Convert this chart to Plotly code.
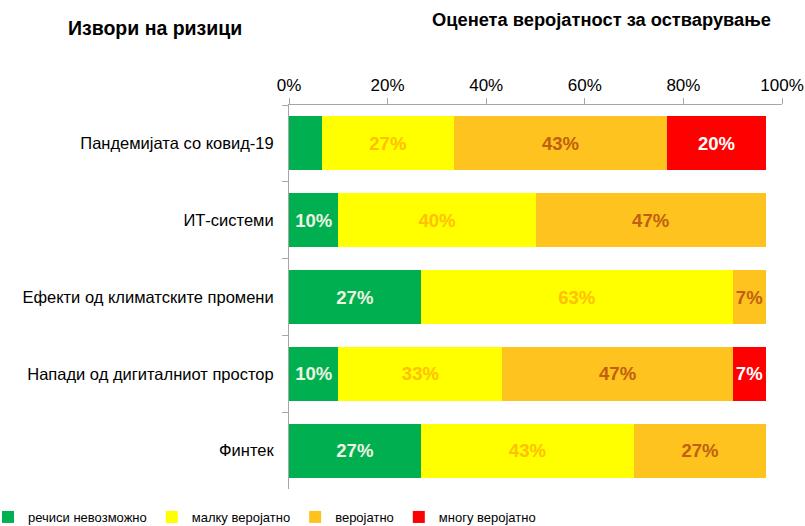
import plotly.graph_objects as go

categories = ["Пандемијата со ковид-19", "ИТ-системи", "Ефекти од климатските промени",
              "Напади од дигиталниот простор", "Финтек"]
series_names = ["речиси невозможно", "малку веројатно", "веројатно", "многу веројатно"]
almost_impossible = [6.7, 10.0, 26.7, 10.0, 26.7]
slightly_likely = [26.7, 40.0, 63.3, 33.3, 43.3]
likely = [43.3, 46.7, 6.7, 46.7, 26.7]
very_likely = [20.0, None, None, 6.7, None]
# label shown on each segment (the small green pandemic segment is unlabelled in the original)
show_label = [
    [False, True, True, True, True],
    [True, True, True, True, True],
    [True, True, True, True, True],
    [True, False, False, True, False],
]
x_ticks = [0, 20, 40, 60, 80, 100]

colors = ["#00B050", "#FFFF00", "#FEC31E", "#FF0000"]
text_colors = ["#EEF3E2", "#FFC000", "#C0600E", "#FFFFFF"]

series = [almost_impossible, slightly_likely, likely, very_likely]

fig = go.Figure()
for i, (name, vals) in enumerate(zip(series_names, series)):
    texts = [f"{v:.0f}%" if (v is not None and show_label[i][j]) else "" for j, v in enumerate(vals)]
    fig.add_trace(go.Bar(
        y=categories, x=vals, name=name, orientation="h",
        marker=dict(color=colors[i], line=dict(width=0)),
        text=texts, textposition="inside", insidetextanchor="middle",
        textangle=0,
        textfont=dict(family="Liberation Sans", size=18.5, color=text_colors[i], weight="bold"),
        hoverinfo="skip",
    ))

L, R, T, B = 289, 23, 105, 37
W, H = 805, 526
pw, ph = W - L - R, H - T - B


def px_to_paper(px, py):
    return (px - L) / pw, (H - B - py) / ph


a1x, a1y = px_to_paper(155, 28)
a2x, a2y = px_to_paper(601, 20)
lx, ly = px_to_paper(-12, 502)

fig.update_layout(
    barmode="stack",
    bargap=0.297,
    width=W, height=H,
    margin=dict(l=L, r=R, t=T, b=B, autoexpand=False),
    paper_bgcolor="white", plot_bgcolor="white",
    font=dict(family="Liberation Sans", size=16, color="#000000"),
    showlegend=True,
    legend=dict(orientation="h", x=lx, xanchor="left", y=ly, yanchor="top",
                font=dict(size=13, family="Liberation Sans"),
                traceorder="normal", itemwidth=30,
                bgcolor="rgba(0,0,0,0)"),
    annotations=[
        dict(text="<b>Извори на ризици</b>", x=a1x, y=a1y, xref="paper", yref="paper",
             xanchor="center", yanchor="middle",
             showarrow=False, font=dict(size=19.5, family="Liberation Sans")),
        dict(text="<b>Оценета веројатност за остварување</b>", x=a2x, y=a2y, xref="paper", yref="paper",
             xanchor="center", yanchor="middle",
             showarrow=False, font=dict(size=18.3, family="Liberation Sans")),
    ],
)

fig.update_xaxes(
    side="top", range=[0, 100], tickvals=x_ticks, ticktext=[f"{t}%" for t in x_ticks],
    showgrid=False, zeroline=False, showline=True, linecolor="#A6A6A6", linewidth=1,
    ticks="outside", ticklen=6, tickcolor="#A6A6A6", tickfont=dict(size=17),
)
fig.update_yaxes(
    autorange="reversed", showgrid=False, zeroline=False, showline=True,
    linecolor="#A6A6A6", linewidth=1, ticks="outside", ticklen=6, tickcolor="#A6A6A6",
    tickson="boundaries", ticklabelstandoff=11, tickfont=dict(size=16.5),
)

fig.write_html("out.html", config={"displayModeBar": False},
               post_script="document.body.style.margin='0';document.body.style.overflow='hidden';")
